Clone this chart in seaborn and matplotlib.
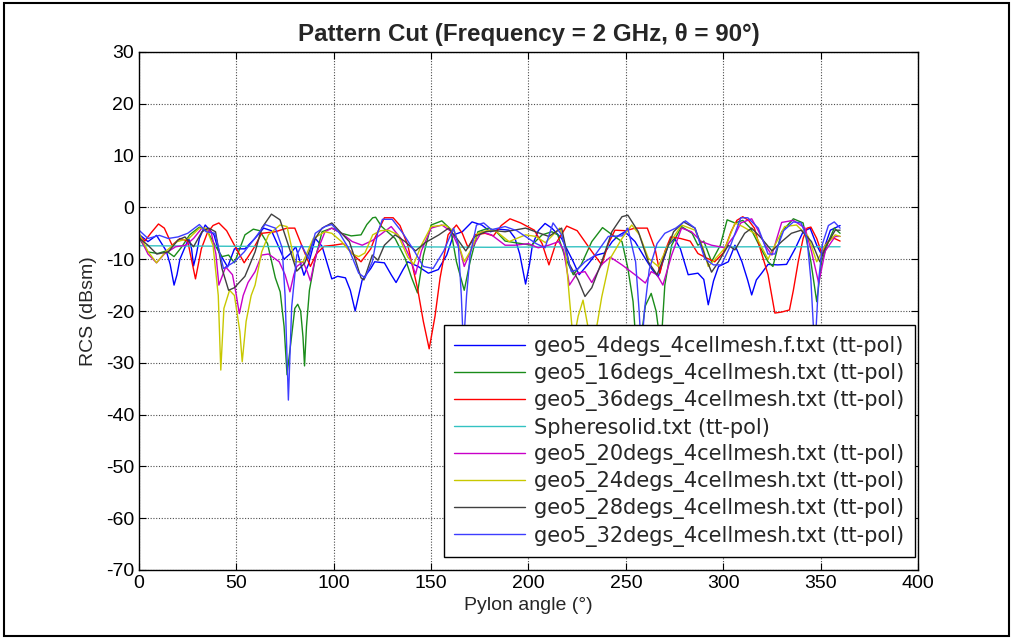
import matplotlib
matplotlib.use("Agg")
import matplotlib.pyplot as plt
from matplotlib.patches import Rectangle
import seaborn as sns

# ---- pattern-cut data: pylon angle (deg) and RCS (dBsm) per file ----
ang_4 = [0, 4.6, 9, 14, 16, 18, 19.5, 21, 25.5, 27, 28, 29.5, 31, 34, 38.5, 41, 45.5, 49, 54.4, 59.5,
         64, 68, 71, 74.5, 77.5, 80.5, 84.7, 87, 90.5, 94, 99, 102, 106, 108.5, 111, 112.8, 114.6, 119,
         121, 126, 129.5, 132, 135.6, 138, 143.3, 148.6, 153.7, 158, 161.5, 166, 171, 176, 180.5, 185,
         190, 193, 195.5, 198.5, 200.5, 202, 205, 208.5, 212, 217, 223, 226, 230.5, 234, 239, 243, 246,
         249.5, 254.7, 260, 263.5, 266.6, 269, 271.7, 275, 278, 282, 287, 290, 292.3, 295, 297.6, 302.6,
         306, 309.6, 312.5, 314.6, 317, 319.7, 323, 328, 332.5, 337, 341, 344.6, 348, 350.6, 355, 360]
rcs_4 = [-5.2, -6.6, -5.4, -8.4, -11, -15, -13, -10, -6, -8, -11.3, -9, -6, -3.4, -5.3, -8.6, -11.5, -8, -8, -6,
         -4, -4.5, -7, -10, -9, -7.6, -13.1, -11, -6, -7.5, -13.8, -13.3, -13.6, -16, -20, -17, -14, -11.8,
         -10.5, -10.7, -13, -14.5, -12, -10.5, -11.4, -12.7, -12, -9.2, -5.3, -4.7, -2.8, -3.4, -4.7, -4.2,
         -4.4, -5.9, -9, -14.8, -11, -7.3, -4.5, -3.1, -4, -6, -10.5, -13, -11, -9.3, -8.8, -6.6, -5.5,
         -4.7, -6.6, -9.9, -12, -13.4, -10.5, -7.3, -6, -8, -13, -12.7, -13.9, -18.8, -14.2, -11.4, -10.5,
         -7.3, -10.5, -14, -16.9, -14, -12.7, -11, -11.1, -11, -7.9, -4.7, -4, -7.3, -9.2, -4.4, -3.5]

ang_16 = [0, 4.6, 9.6, 14, 18, 22, 26, 31, 35, 39, 42.6, 46, 49, 54.4, 58.7, 62, 66, 70, 72.5, 74.5,
          76, 78, 80, 81.5, 83, 84.2, 85, 86, 87.5, 90.5, 94, 99, 104, 109, 114, 117, 120, 121.5, 124.6,
          131.5, 136.6, 140, 143, 146, 150, 155.5, 160, 163, 167, 170, 174, 179.5, 183, 188, 193, 201.6,
          207, 212, 215, 218.7, 223, 227, 232.5, 238, 243, 248, 251, 253.7, 255.5, 257.5, 260, 263,
          265.5, 268, 270, 273.5, 278.6, 284, 287, 290, 294, 298.5, 302, 306, 310, 314, 318, 323, 325.5,
          330, 336, 341, 345, 348, 350.5, 354, 357, 360]
rcs_16 = [-5.9, -8.6, -8.9, -8.4, -9.5, -7.6, -5.3, -3.8, -4.5, -7.3, -9.5, -9.2, -10.7, -5.3, -4.2, -4.5,
          -7, -13.6, -16.3, -23, -32.3, -26, -19.5, -18.7, -20, -25, -30.6, -23, -16, -9.9, -4.7, -4, -5,
          -5.5, -5.3, -3.3, -2, -1.9, -3.7, -6, -9.8, -13.6, -16.5, -9.3, -3.4, -2.6, -4.2, -10.5, -16,
          -10.5, -4.7, -4, -4.5, -6.5, -6.8, -7.3, -5.3, -4.7, -5.3, -9.5, -13, -11.1, -6.6, -3.9, -5.3,
          -6.6, -11.7, -18.2, -28, -26, -19, -16.6, -20, -27, -15, -7.3, -3.7, -5, -7.3, -6.5, -10.5,
          -7.3, -2.4, -3, -2.5, -4, -7, -10.5, -11.4, -4.7, -2.2, -3, -10.5, -18.2, -10.5, -6.6, -4, -5]

ang_36 = [0, 3, 6, 10, 13, 17, 21, 25, 29, 32, 35, 38, 41, 45, 49, 54, 59, 63, 70, 76, 80, 83.5, 88, 91,
          95, 100, 105, 111, 114, 119, 121, 126, 130.5, 134, 138, 143, 146, 149, 152, 154.6, 158.7, 163,
          166, 169, 172.5, 177.7, 182, 186, 190.5, 196, 203, 207, 210.5, 214, 219.6, 225, 232.5, 237.6,
          241, 244.4, 250, 254.7, 261, 265, 267.5, 270, 273, 278, 283, 287, 291, 295.6, 300, 304, 307,
          310, 313, 316, 319, 323, 326.5, 330, 334, 336, 338.5, 341, 343, 345, 348, 350.5, 353, 356, 360]
rcs_36 = [-5.5, -6.5, -5, -3.2, -4, -7.3, -6, -6.5, -13.8, -8, -5, -3.5, -3, -4.5, -7.3, -10.7, -7.8, -5,
          -4.7, -4, -4, -7.3, -11.4, -9, -7.5, -7.3, -7, -9.5, -10.5, -8, -6, -2, -2, -3.5, -7.3, -15.6, -22,
          -27.3, -21, -13.6, -5.3, -3.4, -5, -7.8, -5.3, -5, -5.5, -3.5, -2.2, -3, -4.4, -7, -11.1, -7,
          -3.6, -4.5, -8.5, -11.1, -7, -4.4, -4.5, -4, -4, -8, -12.7, -8.5, -5.7, -6, -6.5, -8.9, -9.7,
          -10.5, -8.8, -4.7, -2.5, -1.8, -2.5, -4, -8, -13, -20.4, -20.2, -19.8, -16, -10.5, -6, -4, -3.8,
          -6, -8.8, -7, -5.8, -6.5]

ang_sphere = [0, 45, 90, 135, 180, 225, 270, 315, 360]
rcs_sphere = [-7.4, -7.5, -7.6, -7.6, -7.7, -7.6, -7.7, -7.6, -7.6]

ang_20 = [0, 4.6, 9, 13, 18.8, 24, 28, 32.3, 37, 39.5, 41, 44.5, 48, 50, 51.5, 53.5, 56, 59.6, 63, 66.5,
          72, 75, 77.5, 79.5, 81, 84.3, 86.5, 88, 89.8, 91.6, 95.5, 99, 104, 109.5, 114.6, 119.8, 122,
          129.5, 134.5, 139, 142, 145, 150, 155.5, 160.5, 165, 167, 171, 176, 181, 188, 193, 200, 205,
          210.4, 215.5, 218, 221, 225, 229, 232.5, 237.6, 242, 248, 254.7, 260, 263, 266, 269, 273.5,
          278.6, 283.7, 288.8, 294, 301, 306, 309, 314.6, 318, 321.5, 325, 327.5, 330, 336, 342, 345.3,
          349, 352.4, 357.5, 360]
rcs_20 = [-5.4, -9, -10.7, -9, -7.6, -7.3, -6, -4, -4.7, -9, -15, -11.5, -13, -17, -20.5, -17, -14.5, -12.4,
          -9.2, -9, -10.5, -13, -16.3, -13, -11.4, -10.5, -12.5, -14.2, -11, -8.4, -4.7, -4, -5, -6.6, -7.3,
          -6.4, -5.8, -3.7, -6, -9.6, -12.9, -8.4, -4, -3.4, -4.7, -8.4, -11.4, -7.8, -4.7, -5.3, -7.3,
          -7.3, -7, -7.8, -7.3, -6.6, -8.2, -15, -12.7, -12.4, -14.5, -11, -9.6, -11.1, -13, -14.6, -12.4,
          -13, -15, -9.2, -4, -4.7, -6.6, -7.3, -7.8, -5.3, -3, -2.2, -4.5, -7.3, -9.2, -6, -2.9, -2.5,
          -4, -8.5, -14.6, -8.4, -5.6, -5.6]

ang_24 = [0, 4.6, 9, 14, 19.6, 25.6, 31, 34.5, 38, 40.7, 42, 43.6, 46.5, 49, 51.8, 53, 55, 57.6, 59.6,
          63, 66.5, 72.4, 76, 80, 84.3, 89.5, 95.5, 99, 104, 109.5, 112.8, 116, 120, 124, 128, 133, 138,
          141, 145, 150, 157, 162, 167, 170, 174, 179.5, 183, 190, 198.5, 203.6, 208.7, 216, 218.7, 221,
          223, 225.5, 228, 230.5, 233, 235.5, 237.6, 241.9, 248, 253, 257, 261.5, 266.6, 271.7, 278.6,
          285.5, 289.6, 292.3, 296, 301, 306, 310, 316, 323, 326.5, 331.5, 337.6, 343.6, 348, 352.4,
          357.5, 360]
rcs_24 = [-5, -8.5, -10.7, -8.4, -6.6, -6, -4, -4, -7.3, -17, -31.4, -19.5, -16, -17, -24, -29.8, -22, -17,
          -15, -8.6, -5.3, -3.4, -3.7, -10.5, -10.5, -6, -4.7, -5, -6.6, -9, -9.5, -8.8, -5.3, -4.5, -4.4,
          -5.3, -9.6, -11, -7.3, -3.7, -3.4, -4.7, -10.5, -8.5, -5, -4.4, -4.5, -6.6, -5.3, -5.6, -6.8,
          -4, -7.3, -17.5, -26, -21, -17.9, -23, -27, -22, -17.3, -9.9, -6, -3.4, -5.3, -9.8, -11.4, -7.3,
          -3.4, -4.4, -7.8, -11.4, -9.9, -7.8, -3, -3.7, -5, -10, -7.3, -3.7, -3.4, -5.6, -10.5, -7.3,
          -5.3, -5.6]

ang_28 = [0, 4.6, 9.1, 15, 20, 23.6, 28, 32.3, 35.8, 39.3, 42.6, 46, 49, 54.4, 59.6, 63, 68, 72.4, 76.7,
          81, 85, 89.5, 94, 99, 104, 108, 111, 114, 115.5, 119.8, 122.7, 126, 131.5, 136.6, 142, 147,
          154, 159, 164, 167.8, 172.5, 178, 183, 188, 198.5, 203.6, 210.4, 217, 221, 225.5, 229, 232.5,
          237.6, 242.8, 248, 251, 256.4, 261.5, 266, 270, 274.5, 279.6, 285.5, 290.5, 294, 297.6, 302.6,
          306, 311, 314.6, 319.7, 325, 330, 335, 340, 345.3, 349.6, 353, 357.5, 360]
rcs_28 = [-5.9, -7.3, -9, -8.6, -6.3, -5.7, -7.6, -4.7, -4, -4.7, -11.8, -16, -15.5, -13.3, -8.6, -4, -1.3,
          -2.4, -7.3, -12.3, -10.8, -6.6, -4, -3, -5, -6.6, -10, -13.6, -14, -9.2, -10.2, -7.3, -5.3, -6.6,
          -8.4, -6.8, -5.3, -4, -6.4, -8.4, -5.6, -4.7, -4.5, -4.7, -4, -4.7, -5.6, -4, -11, -14, -17.2,
          -15.5, -10.5, -4.7, -1.8, -1.5, -4.7, -10.5, -13, -9.2, -4.7, -2.8, -4, -9.2, -12.5, -10.5, -7.3,
          -8.2, -5, -4, -6, -8.4, -6.6, -5, -4.4, -6.6, -10.5, -7.3, -4.4, -4.4]

ang_32 = [0, 4.6, 10.5, 15, 20, 25, 31, 34.5, 39, 43.4, 49, 54, 59.6, 64.7, 70, 73.5, 75, 76.7, 78.4, 81,
          83.5, 87, 90.5, 95.5, 99, 103, 107.5, 112.8, 116, 119.8, 122.5, 125, 130, 135.5, 141, 146, 151,
          156.5, 161.5, 164, 165.5, 166.6, 168.2, 170, 173.3, 177, 181, 188, 194, 200, 204, 208.5, 212.6,
          217, 222, 225, 229, 234, 241, 248, 251, 255, 256.8, 258, 259.5, 262, 266, 270, 275.6, 280.6,
          285.5, 290.5, 295, 299, 303.8, 309, 312.6, 318, 323, 326.5, 331, 336, 340, 343, 345, 347, 349,
          351, 354, 357, 360]
rcs_32 = [-4.4, -6, -5.4, -6, -5.7, -5, -3.3, -4.7, -5, -11.8, -10.5, -8.6, -5.9, -3.3, -4, -7.8, -17,
          -37.2, -19.2, -9.2, -7.3, -9.9, -5, -3.7, -3.3, -5, -7.8, -12.7, -13.6, -10.5, -5, -2.3, -2.3,
          -5, -8.2, -11.4, -11.8, -8.4, -4, -7.3, -17, -27, -17, -9.2, -3.4, -3, -4.3, -3.7, -4.5, -6, -7,
          -7.8, -3, -5.3, -12.4, -12, -10.5, -9.3, -5.6, -5.5, -4, -10.5, -20, -28, -20, -12, -7, -5, -4,
          -2.6, -4, -9.9, -11.1, -11.1, -7.3, -2, -2, -4, -9, -9, -4.5, -2.8, -3, -6, -14, -28, -14, -7,
          -3.5, -2.8, -4]

labels = [
    "geo5_4degs_4cellmesh.f.txt (tt-pol)",
    "geo5_16degs_4cellmesh.txt (tt-pol)",
    "geo5_36degs_4cellmesh.txt (tt-pol)",
    "Spheresolid.txt (tt-pol)",
    "geo5_20degs_4cellmesh.txt (tt-pol)",
    "geo5_24degs_4cellmesh.txt (tt-pol)",
    "geo5_28degs_4cellmesh.txt (tt-pol)",
    "geo5_32degs_4cellmesh.txt (tt-pol)",
]

series = [
    (ang_4, rcs_4, "#0000FF"),
    (ang_16, rcs_16, "#1A8C1A"),
    (ang_36, rcs_36, "#FF0000"),
    (ang_sphere, rcs_sphere, "#33C2C2"),
    (ang_20, rcs_20, "#C800C8"),
    (ang_24, rcs_24, "#C8C800"),
    (ang_28, rcs_28, "#404040"),
    (ang_32, rcs_32, "#3D3DFF"),
]

sns.set_style("white")
plt.rcParams["font.family"] = ["Liberation Sans", "DejaVu Sans"]
plt.rcParams["axes.unicode_minus"] = False

fig = plt.figure(figsize=(10.2, 6.4), dpi=100)
ax = fig.add_axes([139 / 1020, 1 - 570 / 640, 779 / 1020, 518 / 640])

for (a, r, c), lab in zip(series, labels):
    sns.lineplot(x=a, y=r, color=c, linewidth=1.0, label=lab, ax=ax,
                 sort=False, estimator=None)

ax.set_xlim(0, 400)
ax.set_ylim(-70, 30)
ax.set_xticks(range(0, 401, 50))
ax.set_yticks(range(-70, 31, 10))
ax.tick_params(direction="in", length=5, width=0.8, labelsize=14,
               top=True, right=True, bottom=True, left=True, colors="black")
ax.grid(True, color="0.3", linestyle=(0, (1, 1.5)), linewidth=0.8)
for s in ax.spines.values():
    s.set_visible(True)
    s.set_color("black")
    s.set_linewidth(1.0)

ax.set_xlabel("Pylon angle (°)", fontsize=14, labelpad=4)
ax.set_ylabel("RCS (dBsm)", fontsize=14, labelpad=6)
ax.set_title("Pattern Cut (Frequency = 2 GHz, θ = 90°)", fontsize=17.4,
             fontweight="bold", pad=8)

leg = ax.legend(loc="lower right", bbox_to_anchor=(0.9962, 0.0251), borderaxespad=0,
                prop={"family": ["DejaVu Sans"], "size": 15},
                handlelength=3.4, handletextpad=0.45, labelspacing=0.3,
                frameon=True, fancybox=False, framealpha=1.0, borderpad=0.5)
leg.get_frame().set_edgecolor("black")
leg.get_frame().set_linewidth(1.0)

# outer frame around the whole figure
fig.patches.append(Rectangle((0.004, 0.006), 0.985, 0.99, transform=fig.transFigure,
                             fill=False, edgecolor="black", linewidth=1.5))

fig.savefig("out.png", dpi=100)
